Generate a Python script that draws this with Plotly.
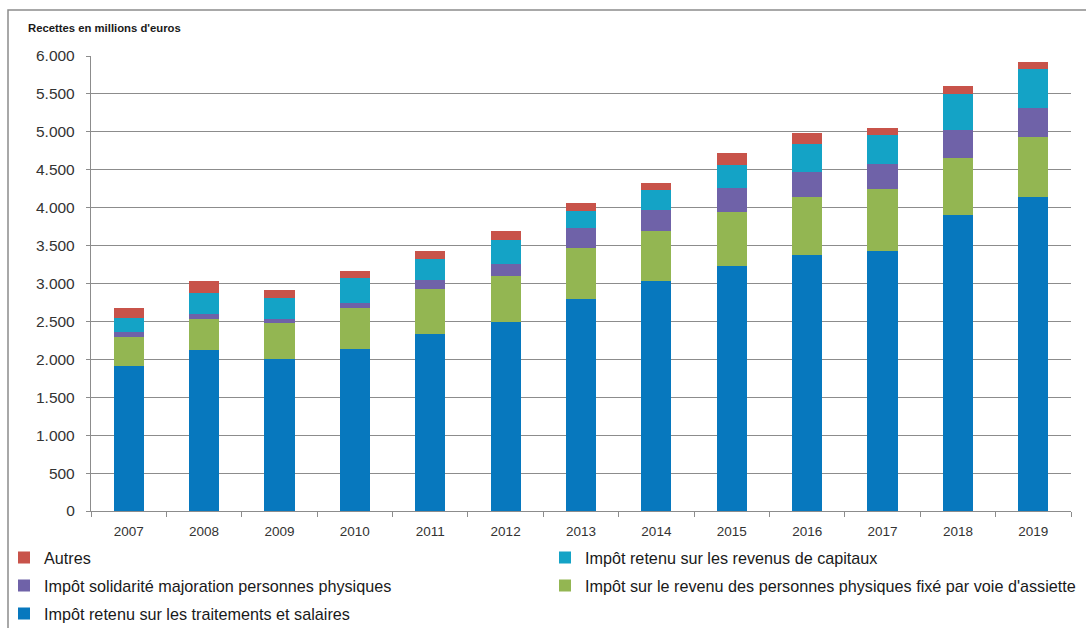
import plotly.graph_objects as go

years = ["2007", "2008", "2009", "2010", "2011", "2012", "2013",
         "2014", "2015", "2016", "2017", "2018", "2019"]

salaires = [1908, 2120, 2001, 2137, 2331, 2497, 2796, 3030, 3232, 3373, 3430, 3908, 4146]
assiette = [391, 413, 479, 541, 597, 607, 669, 667, 716, 765, 821, 752, 791]
solidarite = [62, 69, 57, 70, 119, 154, 272, 277, 308, 329, 330, 365, 383]
capitaux = [189, 274, 273, 321, 277, 317, 220, 264, 308, 370, 382, 479, 514]
autres = [132, 162, 109, 97, 109, 118, 110, 92, 154, 145, 93, 102, 88]

names = {
    "salaires": "Impôt retenu sur les traitements et salaires",
    "assiette": "Impôt sur le revenu des personnes physiques fixé par voie d'assiette",
    "solidarite": "Impôt solidarité majoration personnes physiques",
    "capitaux": "Impôt retenu sur les revenus de capitaux",
    "autres": "Autres",
}
colors = {
    "salaires": "#0778BE",
    "assiette": "#93B652",
    "solidarite": "#6F62A8",
    "capitaux": "#14A3C6",
    "autres": "#C8534A",
}

W, H = 1086, 628
ML, MR, MT, MB = 91, 15, 56, 117
pw = W - ML - MR
ph = H - MT - MB


def px(xpix):
    return (xpix - ML) / pw


def py(ypix):
    return (H - MB - ypix) / ph


# legend slot for each series: (legend id, legend-left x pixel, row centre y pixel)
COL1, COL2 = 46 - 42, 586 - 41
ROW1, ROW2, ROW3 = 558, 586, 614
series = [
    ("salaires", salaires, "legend5", COL1, ROW3),
    ("assiette", assiette, "legend4", COL2, ROW2),
    ("solidarite", solidarite, "legend3", COL1, ROW2),
    ("capitaux", capitaux, "legend2", COL2, ROW1),
    ("autres", autres, "legend", COL1, ROW1),
]

font_family = "Liberation Sans, Arial, sans-serif"

fig = go.Figure()
legends = {}
for key, vals, lg, lx, ly in series:
    fig.add_trace(go.Bar(
        x=years, y=vals, name=names[key],
        marker=dict(color=colors[key], line=dict(width=0)),
        legend=lg,
    ))
    legends[lg] = dict(
        orientation="h", bgcolor="rgba(0,0,0,0)", itemwidth=30,
        font=dict(family=font_family, size=16.2, color="#1a1a1a"),
        xanchor="left", yanchor="middle", x=px(lx), y=py(ly),
    )

fig.update_layout(
    width=W, height=H,
    margin=dict(l=ML, r=MR, t=MT, b=MB, autoexpand=False),
    paper_bgcolor="white", plot_bgcolor="white",
    barmode="stack", bargap=0.6,
    separators=",.",
    showlegend=True,
    **legends,
    xaxis=dict(
        type="category", showline=True, linecolor="#8c8c8c", linewidth=1.3,
        ticks="outside", tickson="boundaries", ticklen=5, tickcolor="#8c8c8c",
        tickfont=dict(family=font_family, size=13.5, color="#333333"),
        showgrid=False, ticklabelstandoff=8,
    ),
    yaxis=dict(
        range=[0, 6000], tickvals=list(range(0, 6001, 500)), tickformat=",d",
        showline=True, linecolor="#8c8c8c", linewidth=1.3,
        ticks="outside", ticklen=4, tickcolor="#8c8c8c",
        showgrid=True, gridcolor="#8c8c8c", gridwidth=1.3, zeroline=False,
        tickfont=dict(family=font_family, size=15.5, color="#333333"),
        ticklabelstandoff=8,
    ),
    annotations=[dict(
        text="<b>Recettes en millions d'euros</b>", xref="paper", yref="paper",
        x=px(26), y=py(28), xanchor="left", yanchor="middle",
        showarrow=False, font=dict(family=font_family, size=11.3, color="#1a1a1a"),
    )],
    shapes=[dict(
        type="rect", xref="paper", yref="paper",
        x0=px(8), x1=px(W + 5),
        y0=py(H + 5), y1=py(10),
        line=dict(color="#8c8c8c", width=1.5), fillcolor="rgba(0,0,0,0)", layer="below",
    )],
)

fig.write_html(
    "out.html",
    config={"displayModeBar": False},
    post_script="document.body.style.margin='0';document.body.style.overflow='hidden';",
)
